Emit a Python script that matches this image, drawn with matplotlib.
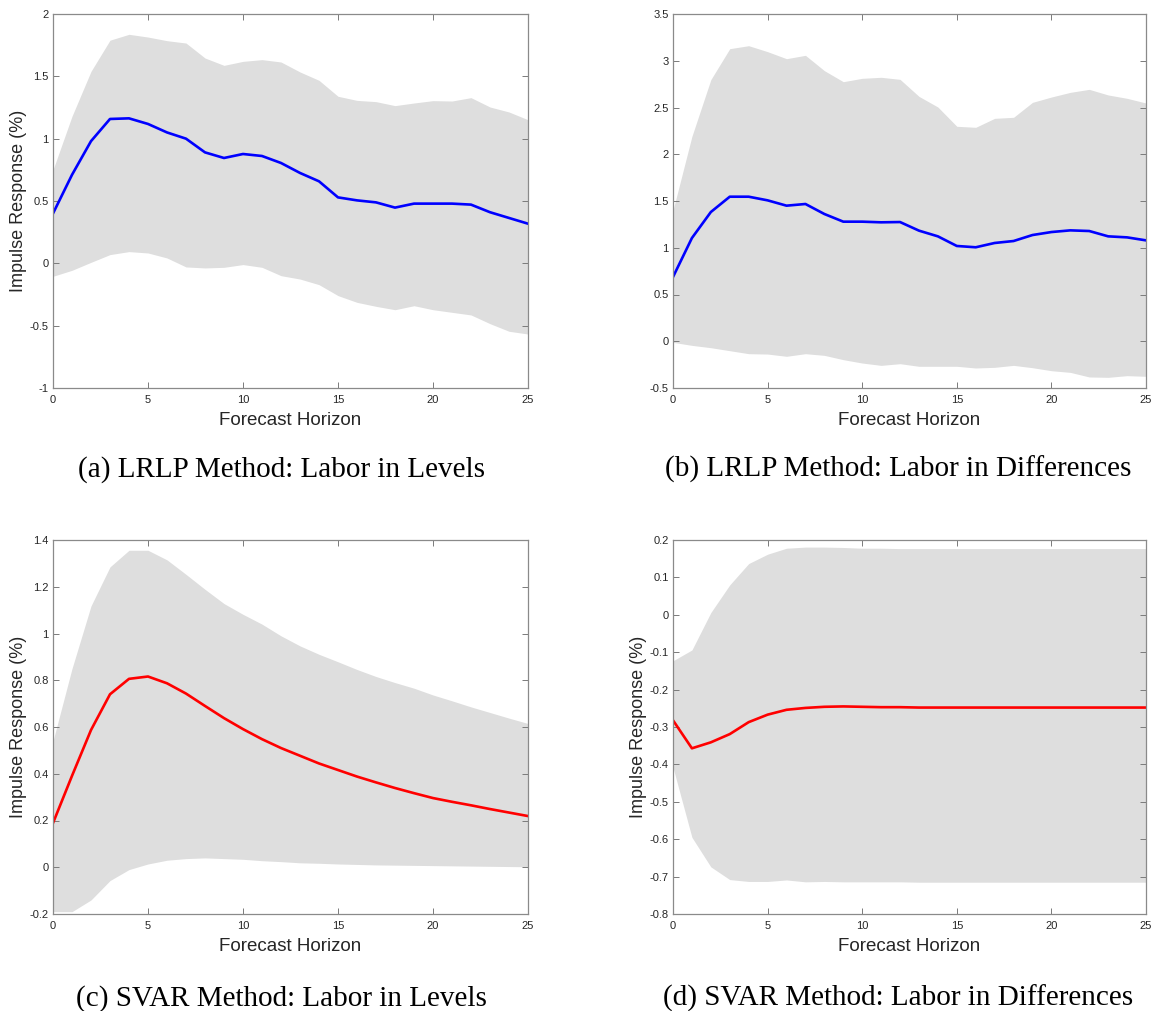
import numpy as np
import matplotlib
matplotlib.use("Agg")
import matplotlib.pyplot as plt
from matplotlib.ticker import FuncFormatter

plt.rcParams["font.family"] = ["Liberation Sans", "DejaVu Sans"]
plt.rcParams["axes.unicode_minus"] = False

horizon = list(range(26))

# (a) LRLP, labor in levels
lrlp_lev_irf = [0.40, 0.71, 0.98, 1.158, 1.163, 1.118, 1.05, 1.00, 0.89, 0.845, 0.877, 0.861, 0.805,
                0.725, 0.658, 0.529, 0.505, 0.489, 0.447, 0.479, 0.479, 0.479, 0.471, 0.41, 0.364, 0.318]
lrlp_lev_hi = [0.75, 1.18, 1.54, 1.79, 1.837, 1.815, 1.786, 1.767, 1.647, 1.588, 1.62, 1.634, 1.615,
               1.535, 1.468, 1.34, 1.307, 1.297, 1.265, 1.286, 1.305, 1.302, 1.329, 1.254, 1.214, 1.152]
lrlp_lev_lo = [-0.104, -0.056, 0.008, 0.07, 0.094, 0.083, 0.043, -0.029, -0.037, -0.032, -0.01, -0.032, -0.099,
               -0.126, -0.171, -0.259, -0.313, -0.345, -0.372, -0.34, -0.372, -0.393, -0.414, -0.484, -0.545, -0.567]

# (b) LRLP, labor in differences
lrlp_dif_irf = [0.687, 1.104, 1.382, 1.546, 1.546, 1.507, 1.45, 1.468, 1.361, 1.279, 1.279, 1.272, 1.275,
                1.183, 1.122, 1.019, 1.005, 1.051, 1.072, 1.136, 1.168, 1.186, 1.179, 1.122, 1.111, 1.079]
lrlp_dif_hi = [1.40, 2.192, 2.798, 3.129, 3.161, 3.097, 3.022, 3.058, 2.894, 2.776, 2.812, 2.823, 2.801,
               2.619, 2.505, 2.299, 2.288, 2.384, 2.395, 2.555, 2.612, 2.662, 2.694, 2.634, 2.598, 2.548]
lrlp_dif_lo = [-0.012, -0.044, -0.069, -0.101, -0.133, -0.137, -0.161, -0.133, -0.151, -0.197, -0.233, -0.258, -0.24,
               -0.268, -0.268, -0.268, -0.286, -0.279, -0.258, -0.283, -0.315, -0.333, -0.382, -0.386, -0.368, -0.375]

# (c) SVAR, labor in levels
svar_lev_irf = [0.189, 0.391, 0.587, 0.740, 0.806, 0.816, 0.787, 0.743, 0.690, 0.638, 0.591, 0.548, 0.510,
                0.477, 0.444, 0.416, 0.388, 0.363, 0.339, 0.317, 0.296, 0.280, 0.265, 0.249, 0.234, 0.219]
svar_lev_hi = [0.54, 0.85, 1.118, 1.285, 1.356, 1.356, 1.315, 1.253, 1.189, 1.128, 1.082, 1.04, 0.99,
               0.947, 0.911, 0.879, 0.846, 0.816, 0.79, 0.766, 0.737, 0.712, 0.686, 0.662, 0.638, 0.615]
svar_lev_lo = [-0.19, -0.19, -0.14, -0.057, -0.01, 0.014, 0.03, 0.037, 0.04, 0.037, 0.034, 0.028, 0.024,
               0.019, 0.017, 0.014, 0.012, 0.010, 0.009, 0.008, 0.007, 0.006, 0.005, 0.004, 0.003, 0.002]

# (d) SVAR, labor in differences
svar_dif_irf = [-0.282, -0.357, -0.341, -0.319, -0.287, -0.267, -0.254, -0.249, -0.246, -0.245, -0.246, -0.247, -0.247,
                -0.248, -0.248, -0.248, -0.248, -0.248, -0.248, -0.248, -0.248, -0.248, -0.248, -0.248, -0.248, -0.248]
svar_dif_hi = [-0.123, -0.094, 0.006, 0.08, 0.137, 0.162, 0.178, 0.181, 0.181, 0.18, 0.178, 0.178, 0.177,
               0.177, 0.177, 0.177, 0.177, 0.177, 0.177, 0.177, 0.177, 0.177, 0.177, 0.177, 0.177, 0.177]
svar_dif_lo = [-0.408, -0.595, -0.674, -0.708, -0.713, -0.713, -0.709, -0.714, -0.713, -0.714, -0.714, -0.714, -0.714,
               -0.715, -0.715, -0.715, -0.715, -0.715, -0.715, -0.715, -0.715, -0.715, -0.715, -0.715, -0.715, -0.715]

panels = [
    dict(irf=lrlp_lev_irf, hi=lrlp_lev_hi, lo=lrlp_lev_lo, color="#0000ff", ylim=(-1, 2), step=0.5,
         ylabel=True, caption="(a) LRLP Method: Labor in Levels"),
    dict(irf=lrlp_dif_irf, hi=lrlp_dif_hi, lo=lrlp_dif_lo, color="#0000ff", ylim=(-0.5, 3.5), step=0.5,
         ylabel=False, caption="(b) LRLP Method: Labor in Differences"),
    dict(irf=svar_lev_irf, hi=svar_lev_hi, lo=svar_lev_lo, color="#ff0000", ylim=(-0.2, 1.4), step=0.2,
         ylabel=True, caption="(c) SVAR Method: Labor in Levels"),
    dict(irf=svar_dif_irf, hi=svar_dif_hi, lo=svar_dif_lo, color="#ff0000", ylim=(-0.8, 0.2), step=0.1,
         ylabel=True, caption="(d) SVAR Method: Labor in Differences"),
]

W, H = 1153, 1011
# axes boxes in pixels: left, top, right, bottom
boxes = [(53, 14, 528, 388), (673, 14, 1146, 388), (53, 540, 528, 914), (673, 540, 1146, 914)]
caption_pos = [(0.2445, 0.536), (0.779, 0.536), (0.2445, 0.0125), (0.779, 0.0125)]


def matlab_fmt(v, pos):
    v = round(v, 6) + 0.0
    return f"{v:g}"


fig = plt.figure(figsize=(W / 100, H / 100), dpi=100)

for p, (l, t, r, b), (cx, cy) in zip(panels, boxes, caption_pos):
    ax = fig.add_axes([l / W, 1 - b / H, (r - l) / W, (b - t) / H])
    ax.fill_between(horizon, p["lo"], p["hi"], color="#dedede", linewidth=0)
    ax.plot(horizon, p["irf"], color=p["color"], linewidth=1.9)

    lo, hi = p["ylim"]
    ax.set_xlim(0, 25)
    ax.set_ylim(lo, hi)
    ax.set_xticks(range(0, 26, 5))
    ax.set_yticks(np.round(np.arange(lo, hi + p["step"] / 2, p["step"]), 6))
    ax.yaxis.set_major_formatter(FuncFormatter(matlab_fmt))
    ax.xaxis.set_major_formatter(FuncFormatter(matlab_fmt))

    ax.tick_params(direction="in", length=4, width=0.7, color="#7a7a7a",
                   top=True, right=True, labelsize=8, labelcolor="#262626", pad=3)
    ax.tick_params(axis="x", pad=5)
    for s in ax.spines.values():
        s.set_color("#8a8a8a")
        s.set_linewidth(0.9)

    ax.set_xlabel("Forecast Horizon", fontsize=13.5, color="#262626", labelpad=5)
    if p["ylabel"]:
        ax.set_ylabel("Impulse Response (%)", fontsize=13, color="#262626", labelpad=2)

    fig.text(cx, cy, p["caption"], ha="center", va="center",
             family=["Liberation Serif", "DejaVu Serif"], fontsize=21)

fig.savefig("out.png", dpi=100)
